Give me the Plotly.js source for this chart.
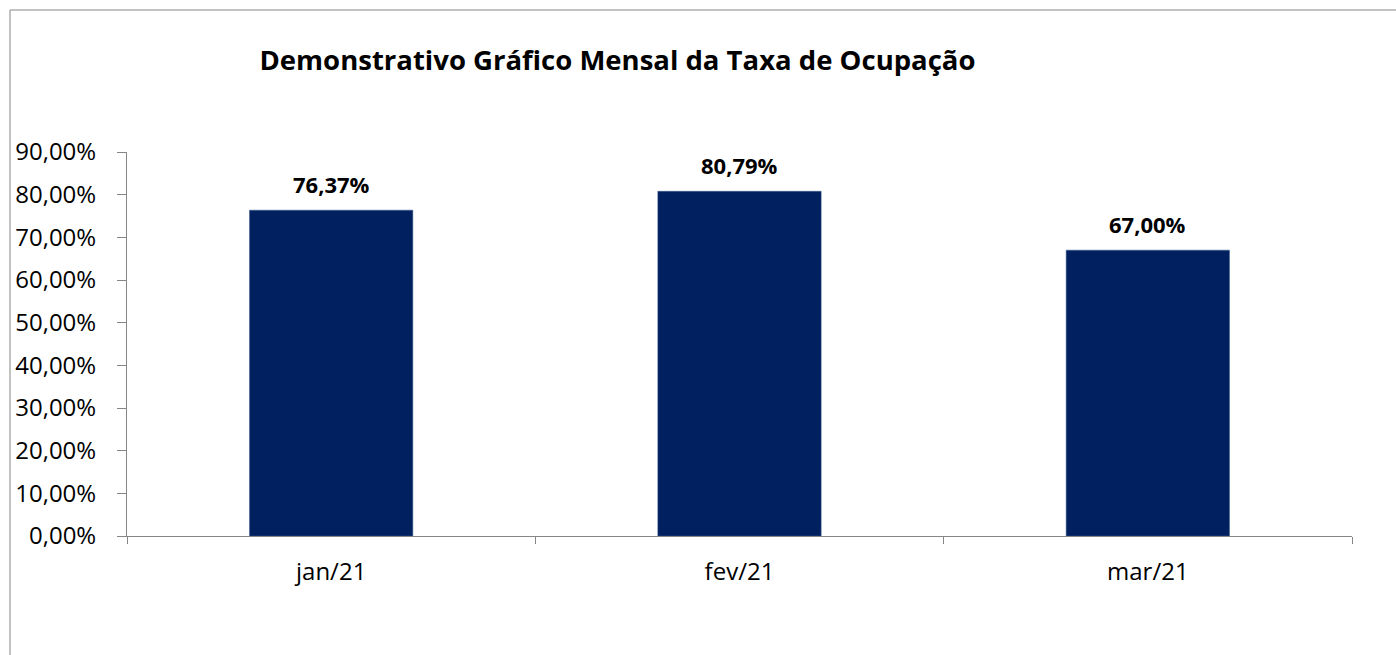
<!DOCTYPE html>
<html>
<head>
<meta charset="utf-8">
<script src="https://cdn.plot.ly/plotly-3.0.1.min.js"></script>
<style>
html,body{margin:0;padding:0;background:#fff;}
#chart{width:1396px;height:655px;}
</style>
</head>
<body>
<div id="chart"></div>
<script>
const categories = ["jan/21", "fev/21", "mar/21"];
const values = [76.37, 80.79, 67.00];
const valueLabels = ["76,37%", "80,79%", "67,00%"];
const yTickVals = [0, 10, 20, 30, 40, 50, 60, 70, 80, 90];
const yTickText = ["0,00%", "10,00%", "20,00%", "30,00%", "40,00%", "50,00%", "60,00%", "70,00%", "80,00%", "90,00%"];
const titleText = "Demonstrativo Gráfico Mensal da Taxa de Ocupação";

const FONT = "Open Sans, sans-serif";

const trace = {
  type: "bar",
  x: categories,
  y: values,
  width: 0.4,
  marker: {color: "#002060", line: {color: "#3a5a8c", width: 0.5}},
  hoverinfo: "none"
};

const annotations = categories.map((c, i) => ({
  x: c, y: values[i], xref: "x", yref: "y",
  text: "<b>" + valueLabels[i] + "</b>",
  showarrow: false, yanchor: "bottom", yshift: 9,
  font: {family: FONT, size: 22, color: "#000"}
}));

const layout = {
  width: 1396, height: 655,
  margin: {l: 127, r: 44, t: 152, b: 119},
  paper_bgcolor: "#fff", plot_bgcolor: "#fff",
  showlegend: false,
  title: {
    text: "<b>" + titleText + "</b>",
    font: {family: FONT, size: 27.5, color: "#000"},
    x: 617.5 / 1396, xanchor: "center",
    y: 1 - 60 / 655, yanchor: "middle"
  },
  xaxis: {
    type: "category",
    range: [-0.5, 2.5],
    showline: true, linecolor: "#868686", linewidth: 1,
    ticks: "outside", tickson: "boundaries", ticklen: 7, tickcolor: "#868686",
    showgrid: false, zeroline: false,
    tickfont: {family: FONT, size: 24, color: "#000"},
    ticklabelstandoff: 14,
    fixedrange: true
  },
  yaxis: {
    range: [0, 90],
    tickvals: yTickVals, ticktext: yTickText,
    showline: true, linecolor: "#868686", linewidth: 1,
    ticks: "outside", ticklen: 9, tickcolor: "#868686",
    showgrid: false, zeroline: false,
    tickfont: {family: FONT, size: 24, color: "#000"},
    ticklabelstandoff: 16,
    fixedrange: true
  },
  annotations: annotations,
  shapes: [{
    type: "rect", xref: "paper", yref: "paper", layer: "below",
    x0: (10 - 127) / 1225, x1: (1430 - 127) / 1225,
    y0: (536 - 690) / 384, y1: (536 - 10) / 384,
    line: {color: "#868686", width: 1}, fillcolor: "rgba(0,0,0,0)"
  }]
};

Plotly.newPlot("chart", [trace], layout, {displayModeBar: false, staticPlot: true});
</script>
</body>
</html>
